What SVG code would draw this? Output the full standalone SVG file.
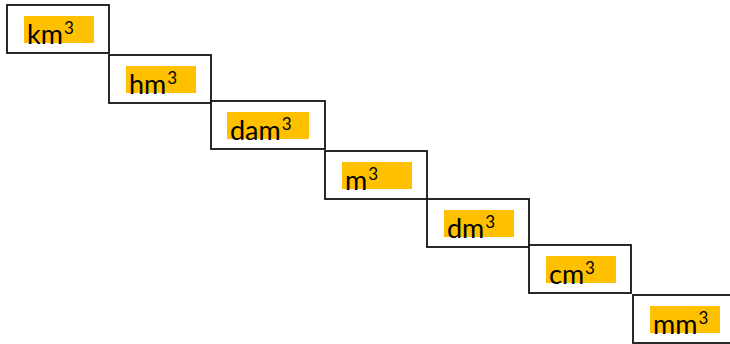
<svg xmlns="http://www.w3.org/2000/svg" width="730" height="344" viewBox="0 0 730 344">
<style>
.box{fill:#fff;stroke:#111;stroke-width:1.8}
.hl{fill:#FFC000}
.lbl{font-family:Lato,"Open Sans","Liberation Sans",sans-serif;font-size:27px;fill:#000}
.sup{font-size:17px}
</style>
<rect width="730" height="344" fill="#fff"/>
<g id="km3">
<rect class="box" x="7" y="5" width="102" height="48"/>
<rect class="hl" x="24" y="16" width="70" height="27"/>
<text class="lbl" x="27" y="44">km<tspan class="sup" dx="1" dy="-10">3</tspan></text>
</g>
<g id="hm3">
<rect class="box" x="109" y="55" width="102" height="48"/>
<rect class="hl" x="126" y="66" width="70" height="27"/>
<text class="lbl" x="129" y="94">hm<tspan class="sup" dx="1" dy="-10">3</tspan></text>
</g>
<g id="dam3">
<rect class="box" x="211" y="101" width="114" height="48"/>
<rect class="hl" x="227" y="112" width="82" height="27"/>
<text class="lbl" x="230" y="140">dam<tspan class="sup" dx="1" dy="-10">3</tspan></text>
</g>
<g id="m3">
<rect class="box" x="325" y="151" width="102" height="48"/>
<rect class="hl" x="342" y="162" width="70" height="27"/>
<text class="lbl" x="345" y="190">m<tspan class="sup" dx="1" dy="-10">3</tspan></text>
</g>
<g id="dm3">
<rect class="box" x="427" y="199" width="102" height="48"/>
<rect class="hl" x="444" y="210" width="70" height="27"/>
<text class="lbl" x="447" y="238">dm<tspan class="sup" dx="1" dy="-10">3</tspan></text>
</g>
<g id="cm3">
<rect class="box" x="529" y="245" width="102" height="48"/>
<rect class="hl" x="546" y="256" width="70" height="27"/>
<text class="lbl" x="549" y="284">cm<tspan class="sup" dx="1" dy="-10">3</tspan></text>
</g>
<g id="mm3">
<rect class="box" x="633" y="295" width="110" height="48"/>
<rect class="hl" x="650" y="306" width="70" height="27"/>
<text class="lbl" x="653" y="334">mm<tspan class="sup" dx="1" dy="-10">3</tspan></text>
</g>
<g id="connectors"/>
</svg>
